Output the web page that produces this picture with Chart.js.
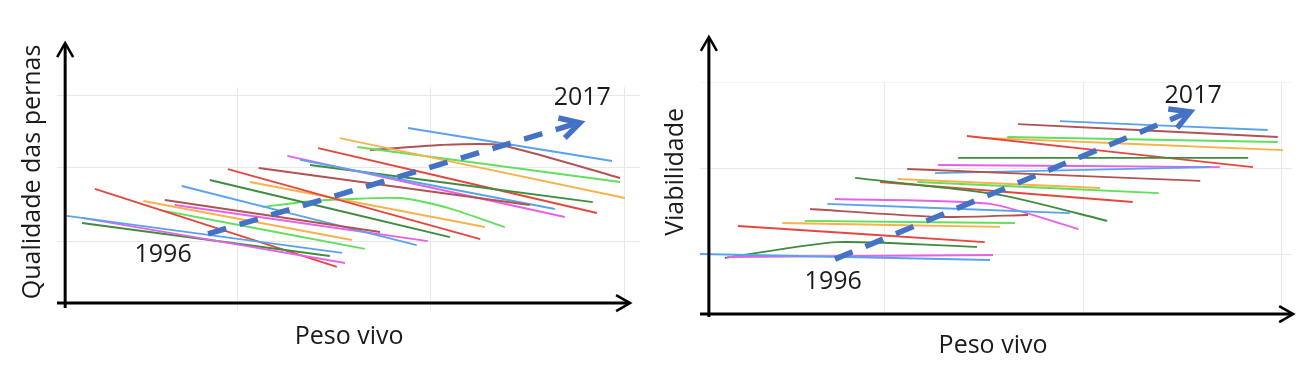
<!DOCTYPE html>
<html>
<head>
<meta charset="utf-8">
<script src="https://cdn.jsdelivr.net/npm/chart.js@4.4.1/dist/chart.umd.min.js"></script>
<style>
  html, body { margin: 0; padding: 0; background: #fff; }
  #wrap { position: relative; width: 1309px; height: 382px; }
  .panel { position: absolute; top: 0; height: 382px; }
  #left  { left: 0;     width: 654px; }
  #right { left: 654px; width: 655px; }
</style>
</head>
<body>
<div id="wrap">
  <div class="panel" id="left"><canvas id="pernasChart"></canvas></div>
  <div class="panel" id="right"><canvas id="viabChart"></canvas></div>
</div>
<script>
// ===== Data =====
const years = [1996, 1997, 1998, 1999, 2000, 2001, 2002, 2003, 2004, 2005, 2006,
               2007, 2008, 2009, 2010, 2011, 2012, 2013, 2014, 2015, 2016, 2017];
const lineColors = ['#59a3ee', '#e662e6', '#3f8d3f', '#e4473f', '#f7b24c', '#62df5c', '#b25353'];

// Qualidade das pernas x Peso vivo (one line per year)
const pernasX = [
  [1.7, 48.9], [4.3, 49.4], [4.3, 46.8], [6.5, 48.0], [14.8, 50.6], [17.7, 52.8],
  [18.5, 55.4], [21.4, 61.7], [20.2, 63.6], [26.2, 67.4], [29.3, 72.6], [33.1, 73.4],
  [35.3, 43.9, 59.0, 67.2, 76.8], [34.6, 81.1], [41.7, 85.4], [39.5, 87.1], [43.4, 91.9],
  [44.8, 92.6], [48.5, 97.4], [51.5, 96.6], [53.7, 65.7, 76.0, 96.6], [60.2, 95.2]
];
const pernasY = [
  [42.2, 25.6], [41.3, 21.1], [39.0, 24.2], [54.3, 19.3], [48.9, 31.4], [44.8, 27.4],
  [49.3, 35.0], [55.6, 29.1], [47.1, 30.9], [58.3, 32.7], [63.2, 31.8], [57.4, 37.2],
  [46.2, 48.9, 50.2, 45.7, 37.2], [63.7, 47.1], [67.3, 45.3], [69.1, 41.7], [65.0, 48.4],
  [72.6, 43.5], [77.1, 50.2], [73.1, 57.4], [71.7, 74.0, 74.0, 59.2], [81.6, 66.8]
];
const pernasTrendX = [25.9, 89.0];
const pernasTrendY = [34.1, 83.6];
const pernasHeadX = [86.0, 89.7, 87.1];
const pernasHeadY = [86.1, 83.9, 77.1];
const pernasGridX = [30.9, 64.0, 97.4];
const pernasGridY = [30.9, 63.7, 96.0];

// Viabilidade x Peso vivo (one line per year)
const viabX = [
  [0, 49.0], [4.6, 49.5], [4.2, 23.1, 46.8], [6.4, 48.1], [13.9, 50.7], [17.7, 53.2],
  [18.6, 40.5, 55.4], [21.5, 62.5], [22.8, 49.0, 63.9], [26.2, 50.7, 68.8], [30.4, 73.1],
  [33.4, 67.6], [36.7, 77.5], [35.0, 84.5], [39.7, 86.1], [40.2, 87.8], [43.6, 92.6],
  [45.1, 93.4], [48.1, 98.5], [51.9, 97.6], [53.7, 97.6], [60.8, 95.9]
];
const viabY = [
  [25.2, 22.6], [23.9, 24.8], [23.5, 30.4, 28.3], [37.4, 30.4], [38.7, 37.0], [39.6, 38.7],
  [44.8, 41.3, 42.2], [47.0, 43.0], [49.1, 47.0, 36.1], [58.3, 50.9, 39.6], [56.5, 47.8],
  [57.8, 53.9], [56.5, 51.7], [62.2, 57.0], [60.4, 63.0], [63.9, 63.0], [67.0, 67.0],
  [76.5, 63.0], [75.7, 70.4], [76.1, 73.9], [81.7, 76.1], [83.0, 79.1]
];
const viabTrendX = [22.8, 82.2];
const viabTrendY = [23.0, 86.6];
const viabHeadX = [79.1, 82.8, 80.6];
const viabHeadY = [88.3, 87.0, 80.0];
const viabGridX = [31.1, 64.7, 98.3];
const viabGridY = [25.2, 62.6, 100];

// ===== Helpers =====
const toPoints = (xs, ys) => xs.map((x, i) => ({ x: x, y: ys[i] }));
const FONT = '"Open Sans", sans-serif';

function buildDatasets(xs, ys, trendX, trendY, headX, headY) {
  const sets = [
    {
      data: toPoints(trendX, trendY),
      borderColor: '#4472c4', borderWidth: 5.5, borderDash: [19, 14],
      showLine: true, pointRadius: 0, order: 0,
    },
    {
      data: toPoints(headX, headY),
      borderColor: '#4472c4', borderWidth: 5.5, borderJoinStyle: 'miter',
      showLine: true, pointRadius: 0, order: 0,
    },
  ];
  years.forEach((yr, i) => {
    sets.push({
      label: String(yr),
      data: toPoints(xs[i], ys[i]),
      borderColor: lineColors[i % lineColors.length],
      borderWidth: 1.9,
      showLine: true, pointRadius: 0, tension: 0.2, order: 1,
    });
  });
  return sets;
}

// axis arrows + texts, placed in data units through the scales
const sketchPlugin = {
  id: 'sketch',
  afterDatasetsDraw(chart, args, opts) {
    const { ctx, scales: { x, y } } = chart;
    ctx.save();
    ctx.strokeStyle = '#000';
    ctx.lineWidth = 3;
    ctx.lineCap = 'butt';
    // y axis
    const ax = x.getPixelForValue(opts.yAxis.x);
    const y0 = y.getPixelForValue(opts.yAxis.from);
    const y1 = y.getPixelForValue(opts.yAxis.to);
    ctx.beginPath(); ctx.moveTo(ax, y0); ctx.lineTo(ax, y1 + 1); ctx.stroke();
    ctx.lineWidth = 2.5;
    ctx.beginPath(); ctx.moveTo(ax - 8, y1 + 14); ctx.lineTo(ax, y1); ctx.lineTo(ax + 8, y1 + 14); ctx.stroke();
    // x axis
    ctx.lineWidth = 3;
    const ay = y.getPixelForValue(opts.xAxis.y);
    const x0 = x.getPixelForValue(opts.xAxis.from);
    const x1 = x.getPixelForValue(opts.xAxis.to);
    ctx.beginPath(); ctx.moveTo(x0, ay); ctx.lineTo(x1 - 1, ay); ctx.stroke();
    ctx.lineWidth = 2.5;
    ctx.beginPath(); ctx.moveTo(x1 - 14, ay - 8); ctx.lineTo(x1, ay); ctx.lineTo(x1 - 14, ay + 8); ctx.stroke();
    // texts
    ctx.fillStyle = '#1b1b1b';
    ctx.textAlign = 'center';
    ctx.textBaseline = 'middle';
    ctx.font = '25px ' + FONT;
    opts.texts.forEach(t => {
      ctx.save();
      ctx.translate(x.getPixelForValue(t.x), y.getPixelForValue(t.y));
      if (t.rotate) ctx.rotate(-Math.PI / 2);
      ctx.fillText(t.text, 0, 0);
      ctx.restore();
    });
    ctx.restore();
  }
};

function makeChart(id, datasets, gridX, gridY, padding, sketch) {
  return new Chart(document.getElementById(id).getContext('2d'), {
    type: 'scatter',
    data: { datasets: datasets },
    plugins: [sketchPlugin],
    options: {
      responsive: true,
      maintainAspectRatio: false,
      animation: false,
      layout: { padding: padding },
      plugins: { legend: { display: false }, tooltip: { enabled: false }, sketch: sketch },
      scales: {
        x: {
          type: 'linear', min: 0, max: 100,
          afterBuildTicks: s => { s.ticks = gridX.map(v => ({ value: v })); },
          ticks: { display: false },
          grid: { color: '#e8e8e8', lineWidth: 1, drawTicks: false },
          border: { display: false },
        },
        y: {
          type: 'linear', min: 0, max: 100,
          afterBuildTicks: s => { s.ticks = gridY.map(v => ({ value: v })); },
          ticks: { display: false },
          grid: { color: ctx => ctx.tick && ctx.tick.value >= 100 ? '#f3f3f3' : '#e8e8e8', lineWidth: 1, drawTicks: false },
          border: { display: false },
        }
      }
    }
  });
}

makeChart('pernasChart',
  buildDatasets(pernasX, pernasY, pernasTrendX, pernasTrendY, pernasHeadX, pernasHeadY),
  pernasGridX, pernasGridY,
  { left: 57, right: 14, top: 87, bottom: 72 },
  {
    yAxis: { x: 1.4, from: 0.9, to: 119.7 },
    xAxis: { y: 3.1, from: 0, to: 98.3 },
    texts: [
      { text: 'Peso vivo', x: 50.1, y: -12.1 },
      { text: 'Qualidade das pernas', x: -4.1, y: 61.9, rotate: true },
      { text: '1996', x: 18.2, y: 24.7 },
      { text: '2017', x: 90.1, y: 95.1 },
    ]
  });

makeChart('viabChart',
  buildDatasets(viabX, viabY, viabTrendX, viabTrendY, viabHeadX, viabHeadY),
  viabGridX, viabGridY,
  { left: 46, right: 17, top: 82, bottom: 70 },
  {
    yAxis: { x: 1.5, from: -2.2, to: 119.6 },
    xAxis: { y: -0.9, from: 0, to: 100.2 },
    texts: [
      { text: 'Peso vivo', x: 49.5, y: -14.8 },
      { text: 'Viabilidade', x: -4.1, y: 60.9, rotate: true },
      { text: '1996', x: 22.5, y: 13.0 },
      { text: '2017', x: 83.3, y: 93.9 },
    ]
  });
</script>
</body>
</html>
